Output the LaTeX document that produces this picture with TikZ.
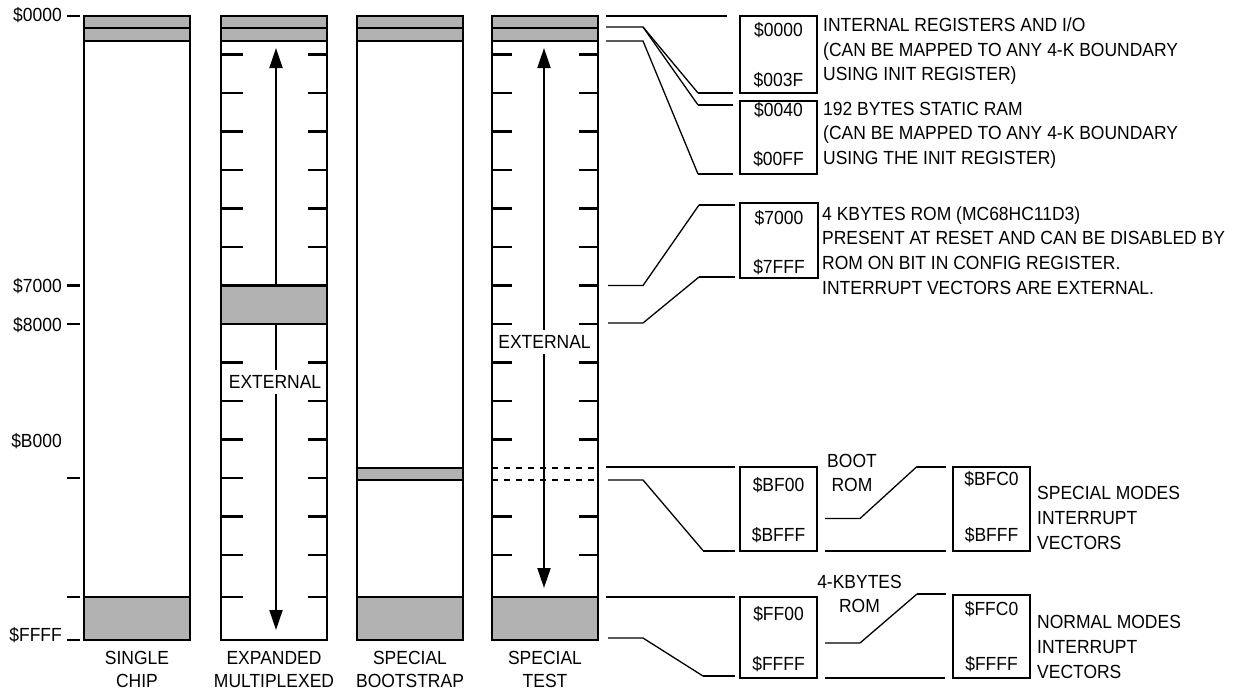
\documentclass[tikz,border=0pt]{standalone}
\usepackage{fontspec}
\setmainfont{Liberation Sans}[FakeStretch=0.92]
\usetikzlibrary{arrows.meta}
\begin{document}
\begin{tikzpicture}[x=1pt,y=-1pt,
  colbox/.style={draw=black, line width=2.6pt},
  band/.style={fill=black!30, draw=black, line width=2.6pt},
  tickmark/.style={line width=2.4pt},
  lead/.style={line width=2pt},
  thinlead/.style={line width=1.3pt},
  membox/.style={draw=black, line width=2pt, inner sep=0pt, outer sep=0pt, minimum width=77pt, anchor=north west},
  lbl/.style={font=\fontsize{19}{24.7}\selectfont, inner sep=0pt},
  note/.style={lbl, align=left, anchor=base west},
  collbl/.style={font=\fontsize{19}{22.5}\selectfont, inner sep=0pt, align=center, anchor=base},
  ext/.style={lbl, fill=white, inner xsep=1pt, inner ysep=5pt},
  arr/.style={line width=2pt, {Triangle[length=20pt,width=13pt]}-{Triangle[length=20pt,width=13pt]}},
]
\fill[white] (0,0) rectangle (1236,694);
\useasboundingbox (0,0) rectangle (1236,694);

% columns
\foreach \L in {84,221,357,492} {
  \draw[colbox] (\L,16) rectangle ++(106,624);
}
% ticks inside expanded column
\foreach \y in {54.5,93,131.5,170,208.5,247,362.5,401,439.5,478,516.5,555,597} {
  \draw[tickmark] (221,\y) -- ++(22,0);
  \draw[tickmark] (327,\y) -- ++(-19,0);
}
% ticks inside special test column
\foreach \y in {54.5,93,131.5,170,208.5,247,285.5,324,362.5,401,439.5,516.5,555} {
  \draw[tickmark] (492,\y) -- ++(20,0);
  \draw[tickmark] (598,\y) -- ++(-19,0);
}
% arrows
\coordinate (a2t) at (276,48);
\coordinate (a2b) at (276,630);
\coordinate (a4t) at (544,48);
\coordinate (a4b) at (544,588);
\draw[arr] (a2t) -- (a2b);
\draw[arr] (a4t) -- (a4b);

% bands
\foreach \L in {84,221,357,492} {
  \draw[band] (\L,16) rectangle ++(106,12);
  \draw[band] (\L,28) rectangle ++(106,13);
}
\foreach \L in {84,357,492} {
  \draw[band] (\L,597) rectangle ++(106,43);
}
\draw[band] (221,285.5) rectangle ++(106,38.5);
\draw[band] (357,468) rectangle ++(106,12);
\draw[line width=2pt, dash pattern=on 6pt off 6pt] (492,468) -- ++(106,0);
\draw[line width=2pt, dash pattern=on 6pt off 6pt] (492,480) -- ++(106,0);

\node[ext] (ext2) at (275,382) {EXTERNAL};
\node[ext] (ext4) at (544.5,342) {EXTERNAL};

% column labels (anchor = baseline of last line)
\node[collbl] (cl1) at (137,687) {SINGLE\\CHIP};
\node[collbl] (cl2) at (274,687) {EXPANDED\\MULTIPLEXED};
\node[collbl] (cl3) at (410,687) {SPECIAL\\BOOTSTRAP};
\node[collbl] (cl4) at (545,687) {SPECIAL\\TEST};

% address axis
\foreach \y in {16,285.5,324,478,597,640} {
  \draw[tickmark] (67,\y) -- (80,\y);
}
\node[lbl, anchor=base east] (ax0) at (62,21.5) {\$0000};
\node[lbl, anchor=base east] (ax7) at (62,292.5) {\$7000};
\node[lbl, anchor=base east] (ax8) at (62,331) {\$8000};
\node[lbl, anchor=base east] (axb) at (62,447.5) {\$B000};
\node[lbl, anchor=base east] (axf) at (62,641) {\$FFFF};

% boxes
\node[membox, minimum height=77pt] (b1) at (740,16) {};
\node[membox, minimum height=73.5pt] (b2) at (740,100.5) {};
\node[membox, minimum width=78pt, minimum height=75pt] (b3) at (740,203) {};
\node[membox, minimum height=84pt] (b4) at (740,466.5) {};
\node[membox, minimum height=84pt] (b5) at (953,466.5) {};
\node[membox, minimum height=81pt] (b6) at (740,597) {};
\node[membox, minimum height=83pt] (b7) at (953,595) {};

\node[lbl, anchor=base] (b1t) at ([yshift=-20pt]b1.north) {\$0000};
\node[lbl, anchor=base] (b1b) at ([yshift=7pt]b1.south) {\$003F};
\node[lbl, anchor=base] (b2t) at ([yshift=-15.5pt]b2.north) {\$0040};
\node[lbl, anchor=base] (b2b) at ([yshift=9pt]b2.south) {\$00FF};
\node[lbl, anchor=base] (b3t) at ([yshift=-21pt]b3.north) {\$7000};
\node[lbl, anchor=base] (b3b) at ([yshift=5pt]b3.south) {\$7FFF};
\node[lbl, anchor=base] (b4t) at ([yshift=-25pt]b4.north) {\$BF00};
\node[lbl, anchor=base] (b4b) at ([yshift=9pt]b4.south) {\$BFFF};
\node[lbl, anchor=base] (b5t) at ([yshift=-18.5pt]b5.north) {\$BFC0};
\node[lbl, anchor=base] (b5b) at ([yshift=9pt]b5.south) {\$BFFF};
\node[lbl, anchor=base] (b6t) at ([yshift=-23pt]b6.north) {\$FF00};
\node[lbl, anchor=base] (b6b) at ([yshift=7.3pt]b6.south) {\$FFFF};
\node[lbl, anchor=base] (b7t) at ([yshift=-20pt]b7.north) {\$FFC0};
\node[lbl, anchor=base] (b7b) at ([yshift=7.3pt]b7.south) {\$FFFF};

% notes (anchor = baseline of last line)
\node[note] (n1) at (823,80.9) {INTERNAL REGISTERS AND I/O\\(CAN BE MAPPED TO ANY 4-K BOUNDARY\\USING INIT REGISTER)};
\node[note] (n2) at (823,164.4) {192 BYTES STATIC RAM\\(CAN BE MAPPED TO ANY 4-K BOUNDARY\\USING THE INIT REGISTER)};
\node[note] (n3) at (822,294.1) {4 KBYTES ROM (MC68HC11D3)\\PRESENT AT RESET AND CAN BE DISABLED BY\\ROM ON BIT IN CONFIG REGISTER.\\INTERRUPT VECTORS ARE EXTERNAL.};
\node[note] (n4) at (1037,549.2) {SPECIAL MODES\\INTERRUPT\\VECTORS};
\node[note] (n5) at (1037,678) {NORMAL MODES\\INTERRUPT\\VECTORS};
\node[lbl, align=center, anchor=base] (n6) at (852,491.7) {BOOT\\ROM};
\node[lbl, align=center, anchor=base] (n7) at (859.5,612.7) {4-KBYTES\\ROM};

% connector start points
\coordinate (p0) at (606,16);
\coordinate (p1) at (606,27);
\coordinate (p2) at (606,41);
\coordinate (p3) at (608,285.5);
\coordinate (p4) at (608,323);
\coordinate (p5) at (606,466.5);
\coordinate (p6) at (608,480);
\coordinate (p7) at (606,597);
\coordinate (p8) at (608,638);

\draw[lead] (p0) -- ([xshift=-13pt]b1.north west);
\draw[thinlead] (p1) -- ++(37,0) coordinate (q1) -- ([xshift=-42pt]b1.south west);
\draw[lead] ([xshift=-42pt]b1.south west) -- ([xshift=-7pt]b1.south west);
\draw[thinlead] (q1) -- ([shift={(-42pt,-4.5pt)}]b2.north west);
\draw[lead] ([shift={(-42pt,-4.5pt)}]b2.north west) -- ([shift={(-7pt,-4.5pt)}]b2.north west);
\draw[thinlead] (p2) -- ++(37,0) -- ([xshift=-42pt]b2.south west);
\draw[lead] ([xshift=-42pt]b2.south west) -- ([xshift=-7pt]b2.south west);

\draw[thinlead] (p3) -- ++(35,0) -- ([shift={(-41pt,-2pt)}]b3.north west);
\draw[lead] ([shift={(-41pt,-2pt)}]b3.north west) -- ([shift={(-5pt,-2pt)}]b3.north west);
\draw[thinlead] (p4) -- ++(35,0) -- ([shift={(-41pt,1pt)}]b3.south west);
\draw[lead] ([shift={(-41pt,1pt)}]b3.south west) -- ([shift={(-5pt,1pt)}]b3.south west);

\draw[lead] (p5) -- ([xshift=-5pt]b4.north west);
\draw[thinlead] (p6) -- ++(35,0) -- ([xshift=-37pt]b4.south west);
\draw[lead] ([xshift=-37pt]b4.south west) -- ([xshift=-5pt]b4.south west);
\draw[thinlead] ([shift={(8pt,32pt)}]b4.south east) -- ++(35,0) -- ([xshift=-36pt]b5.north west);
\draw[lead] ([xshift=-36pt]b5.north west) -- ([xshift=-7pt]b5.north west);
\draw[lead] ([xshift=8pt]b4.south east) -- ([xshift=-7pt]b5.south west);

\draw[lead] (p7) -- ([xshift=-5pt]b6.north west);
\draw[thinlead] (p8) -- ++(35,0) -- ([shift={(-37pt,2pt)}]b6.south west);
\draw[lead] ([shift={(-37pt,2pt)}]b6.south west) -- ([shift={(-5pt,2pt)}]b6.south west);
\draw[thinlead] ([shift={(8pt,35pt)}]b6.south east) -- ++(35,0) -- ([shift={(-36pt,1pt)}]b7.north west);
\draw[lead] ([shift={(-36pt,1pt)}]b7.north west) -- ([shift={(-7pt,1pt)}]b7.north west);
\draw[lead] ([xshift=8pt]b6.south east) -- ([xshift=-8pt]b7.south west);
\end{tikzpicture}
\end{document}
